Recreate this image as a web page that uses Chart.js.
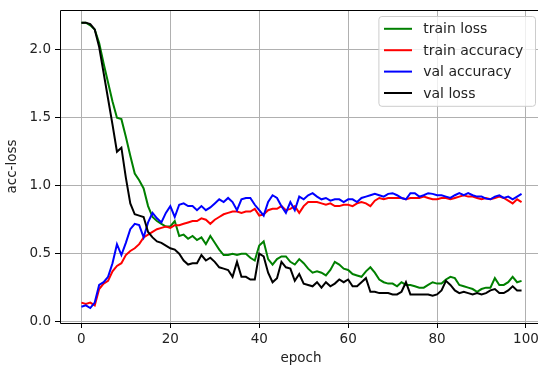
<!DOCTYPE html>
<html>
<head>
<meta charset="utf-8">
<script src="https://cdn.jsdelivr.net/npm/chart.js@4"></script>
<style>
  html, body { margin: 0; padding: 0; background: #fff; overflow: hidden; }
  #wrap { width: 538px; height: 367px; overflow: hidden; }
</style>
</head>
<body>
<div id="wrap"><canvas id="chart" width="545" height="367"></canvas></div>
<script>
const epochs = Array.from({ length: 100 }, (_, i) => i);

const trainLoss = [
  2.20, 2.20, 2.18, 2.15, 2.05, 1.90, 1.76, 1.62, 1.50, 1.49,
  1.36, 1.22, 1.09, 1.04, 0.98, 0.85, 0.77, 0.74, 0.72, 0.70,
  0.70, 0.74, 0.63, 0.64, 0.61, 0.63, 0.60, 0.62, 0.57, 0.63,
  0.58, 0.53, 0.49, 0.49, 0.50, 0.49, 0.50, 0.50, 0.47, 0.45,
  0.56, 0.59, 0.46, 0.42, 0.46, 0.48, 0.48, 0.44, 0.42, 0.46,
  0.43, 0.39, 0.36, 0.37, 0.36, 0.34, 0.38, 0.44, 0.42, 0.39,
  0.38, 0.35, 0.34, 0.33, 0.37, 0.40, 0.36, 0.31, 0.29, 0.28,
  0.28, 0.26, 0.29, 0.27, 0.27, 0.26, 0.25, 0.25, 0.27, 0.29,
  0.28, 0.28, 0.31, 0.33, 0.32, 0.27, 0.26, 0.25, 0.24, 0.22,
  0.24, 0.25, 0.25, 0.32, 0.27, 0.27, 0.29, 0.33, 0.29, 0.30
];
const trainAcc = [
  0.14, 0.13, 0.14, 0.12, 0.24, 0.28, 0.30, 0.37, 0.41, 0.43,
  0.49, 0.52, 0.54, 0.57, 0.62, 0.64, 0.66, 0.68, 0.69, 0.70,
  0.69, 0.71, 0.71, 0.72, 0.73, 0.74, 0.74, 0.76, 0.75, 0.72,
  0.75, 0.77, 0.79, 0.80, 0.81, 0.81, 0.80, 0.81, 0.81, 0.83,
  0.78, 0.79, 0.82, 0.83, 0.83, 0.85, 0.82, 0.83, 0.85, 0.80,
  0.85, 0.88, 0.88, 0.88, 0.87, 0.86, 0.87, 0.85, 0.85, 0.86,
  0.86, 0.85, 0.87, 0.88, 0.87, 0.85, 0.89, 0.91, 0.90, 0.91,
  0.91, 0.91, 0.91, 0.90, 0.91, 0.91, 0.91, 0.92, 0.91, 0.90,
  0.90, 0.91, 0.91, 0.90, 0.91, 0.92, 0.93, 0.92, 0.92, 0.91,
  0.90, 0.91, 0.90, 0.91, 0.92, 0.91, 0.89, 0.87, 0.90, 0.88
];
const valAcc = [
  0.11, 0.12, 0.10, 0.14, 0.27, 0.29, 0.33, 0.43, 0.57, 0.49,
  0.58, 0.68, 0.72, 0.71, 0.62, 0.73, 0.80, 0.76, 0.73, 0.80,
  0.85, 0.77, 0.86, 0.87, 0.85, 0.85, 0.82, 0.85, 0.82, 0.84,
  0.87, 0.90, 0.88, 0.91, 0.88, 0.82, 0.90, 0.91, 0.91, 0.86,
  0.82, 0.78, 0.88, 0.93, 0.91, 0.85, 0.80, 0.88, 0.82, 0.92,
  0.90, 0.93, 0.945, 0.92, 0.90, 0.91, 0.89, 0.90, 0.90, 0.88,
  0.90, 0.90, 0.88, 0.91, 0.92, 0.93, 0.94, 0.93, 0.92, 0.94,
  0.945, 0.93, 0.91, 0.90, 0.945, 0.945, 0.92, 0.93, 0.945, 0.94,
  0.93, 0.93, 0.92, 0.91, 0.93, 0.945, 0.93, 0.945, 0.93, 0.92,
  0.92, 0.905, 0.90, 0.92, 0.93, 0.91, 0.92, 0.90, 0.92, 0.94
];
const valLoss = [
  2.20, 2.20, 2.19, 2.15, 2.02, 1.83, 1.64, 1.45, 1.25, 1.28,
  1.06, 0.87, 0.79, 0.78, 0.77, 0.66, 0.62, 0.59, 0.58, 0.56,
  0.54, 0.53, 0.50, 0.45, 0.42, 0.43, 0.43, 0.49, 0.45, 0.47,
  0.44, 0.40, 0.39, 0.38, 0.33, 0.44, 0.33, 0.33, 0.31, 0.31,
  0.50, 0.48, 0.36, 0.29, 0.32, 0.44, 0.40, 0.39, 0.30, 0.35,
  0.28, 0.27, 0.26, 0.29, 0.25, 0.29, 0.26, 0.28, 0.31, 0.29,
  0.31, 0.26, 0.26, 0.29, 0.32, 0.22, 0.22, 0.21, 0.21, 0.21,
  0.20, 0.20, 0.22, 0.29, 0.20, 0.20, 0.20, 0.20, 0.20, 0.19,
  0.20, 0.23, 0.30, 0.27, 0.23, 0.21, 0.22, 0.21, 0.20, 0.21,
  0.20, 0.21, 0.23, 0.24, 0.21, 0.21, 0.23, 0.26, 0.23, 0.23
];

const xTicks = [0, 20, 40, 60, 80, 100];
const yTicks = [0, 0.5, 1, 1.5, 2];

Chart.defaults.font.family = '"DejaVu Sans", sans-serif';
Chart.defaults.font.size = 13.5;
Chart.defaults.color = '#222';

// left, top and bottom spines (the right one falls outside the picture)
const frame = {
  id: 'frame',
  afterDatasetsDraw(chart) {
    const { ctx, chartArea: a } = chart;
    const l = Math.round(a.left) + 0.5, t = Math.round(a.top) + 0.5, b = Math.round(a.bottom) + 0.5;
    ctx.save();
    ctx.strokeStyle = '#000';
    ctx.lineWidth = 1;
    ctx.beginPath();
    ctx.moveTo(a.right + 2, t);
    ctx.lineTo(l, t);
    ctx.lineTo(l, b);
    ctx.lineTo(a.right + 2, b);
    ctx.stroke();
    ctx.restore();
  }
};

// legend in the upper right corner, inside the axes
const legendBox = {
  id: 'legendBox',
  afterDraw(chart) {
    const { ctx, chartArea: a } = chart;
    const fs = 14;
    const sets = chart.data.datasets;
    ctx.save();
    ctx.font = fs + 'px "DejaVu Sans"';
    const textW = Math.max(...sets.map(d => ctx.measureText(d.label).width));
    const pad = 0.4 * fs, handle = 2 * fs, gap = 0.8 * fs;
    const rowH = 14.4, spacing = 0.5 * fs;
    const w = pad + handle + gap + textW + pad + 6;
    const h = 2 * pad + sets.length * rowH + (sets.length - 1) * spacing;
    const left = a.right - 7 - w;
    const top = a.top + 6;

    ctx.beginPath();
    if (ctx.roundRect) ctx.roundRect(left + 0.5, top + 0.5, w, h, 3);
    else ctx.rect(left + 0.5, top + 0.5, w, h);
    ctx.fillStyle = 'rgba(255,255,255,0.8)';
    ctx.fill();
    ctx.strokeStyle = '#cccccc';
    ctx.lineWidth = 1;
    ctx.stroke();

    ctx.textBaseline = 'middle';
    sets.forEach((d, i) => {
      const y = top + pad + rowH / 2 + i * (rowH + spacing);
      ctx.beginPath();
      ctx.moveTo(left + pad, y);
      ctx.lineTo(left + pad + handle, y);
      ctx.strokeStyle = d.borderColor;
      ctx.lineWidth = 2;
      ctx.stroke();
      ctx.fillStyle = '#222';
      ctx.fillText(d.label, left + pad + handle + gap, y + 1);
    });
    ctx.restore();
  }
};

const gridOpts = { color: '#b0b0b0', lineWidth: 1, tickColor: '#000', tickLength: 5 };

new Chart(document.getElementById('chart'), {
  type: 'line',
  data: {
    labels: epochs,
    datasets: [
      { label: 'train loss', data: trainLoss, borderColor: '#008000', order: 3 },
      { label: 'train accuracy', data: trainAcc, borderColor: '#ff0000', order: 2 },
      { label: 'val accuracy', data: valAcc, borderColor: '#0000ff', order: 1 },
      { label: 'val loss', data: valLoss, borderColor: '#000000', order: 0 }
    ]
  },
  options: {
    responsive: false,
    animation: false,
    layout: { padding: { top: 10, right: 3, left: 0, bottom: 0 } },
    elements: {
      line: { borderWidth: 2, tension: 0, fill: false },
      point: { radius: 0 }
    },
    plugins: { legend: { display: false }, tooltip: { enabled: false } },
    scales: {
      x: {
        type: 'linear',
        min: -4.81,
        max: 103.6,
        afterBuildTicks: s => { s.ticks = xTicks.map(v => ({ value: v })); },
        afterFit: s => { s.height = 44; s.paddingLeft = 0; s.paddingRight = 0; },
        grid: gridOpts,
        border: { display: false },
        ticks: { padding: 3, maxRotation: 0, callback: v => String(v) },
        title: { display: true, text: 'epoch', padding: { top: 1, bottom: 0 } }
      },
      y: {
        min: -0.01,
        max: 2.293,
        afterBuildTicks: s => { s.ticks = yTicks.map(v => ({ value: v })); },
        afterFit: s => { s.width = 60; s.paddingTop = 0; s.paddingBottom = 0; },
        grid: gridOpts,
        border: { display: false },
        ticks: { padding: 4, callback: v => v.toFixed(1) },
        title: { display: true, text: 'acc-loss', padding: { top: 4, bottom: 2 } }
      }
    }
  },
  plugins: [frame, legendBox]
});
</script>
</body>
</html>
